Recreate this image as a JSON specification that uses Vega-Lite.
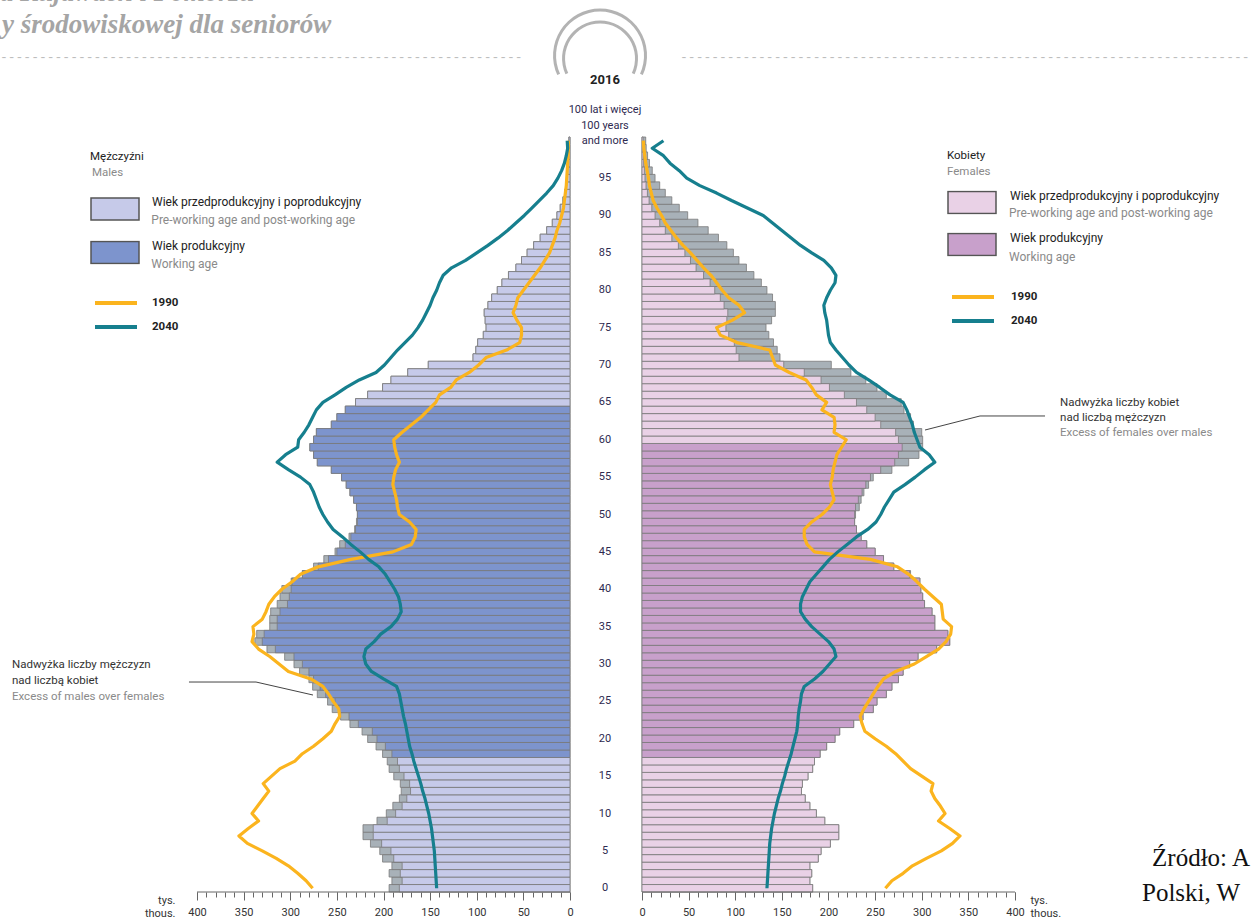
{
"$schema": "https://vega.github.io/schema/vega-lite/v6.json",
"autosize": {"type": "none"},
"width": 818, "height": 755,
"padding": {"left": 197, "top": 137, "right": 237, "bottom": 27},
"background": "white",
"config": {"view": {"stroke": null}, "font": "Roboto", "axis": {"labelColor": "#333", "labelFont": "Roboto", "labelFontSize": 11, "grid": false, "domain": false, "tickColor": "#666"}, "legend": {"labelFont": "Roboto", "titleFont": "Roboto"}},
"data": {"values": [
{"age":0,"sex":"M","v":194,"1990":276,"2040":143,"grp":"P"},
{"age":1,"sex":"M","v":191,"1990":283,"2040":143.5,"grp":"P"},
{"age":2,"sex":"M","v":194,"1990":292,"2040":144,"grp":"P"},
{"age":3,"sex":"M","v":191,"1990":302,"2040":144.5,"grp":"P"},
{"age":4,"sex":"M","v":201,"1990":315,"2040":145,"grp":"P"},
{"age":5,"sex":"M","v":204,"1990":330,"2040":145.5,"grp":"P"},
{"age":6,"sex":"M","v":214,"1990":346,"2040":146.5,"grp":"P"},
{"age":7,"sex":"M","v":222,"1990":355,"2040":147.5,"grp":"P"},
{"age":8,"sex":"M","v":222,"1990":345,"2040":148.5,"grp":"P"},
{"age":9,"sex":"M","v":207,"1990":334,"2040":150,"grp":"P"},
{"age":10,"sex":"M","v":197,"1990":341,"2040":151.5,"grp":"P"},
{"age":11,"sex":"M","v":190,"1990":335,"2040":153.5,"grp":"P"},
{"age":12,"sex":"M","v":183,"1990":329,"2040":155.5,"grp":"P"},
{"age":13,"sex":"M","v":181,"1990":323,"2040":158,"grp":"P"},
{"age":14,"sex":"M","v":182,"1990":329,"2040":160,"grp":"P"},
{"age":15,"sex":"M","v":189,"1990":320,"2040":162.5,"grp":"P"},
{"age":16,"sex":"M","v":194,"1990":311,"2040":165,"grp":"P"},
{"age":17,"sex":"M","v":196,"1990":295,"2040":167.5,"grp":"P"},
{"age":18,"sex":"M","v":201,"1990":287,"2040":169.5,"grp":"W"},
{"age":19,"sex":"M","v":208,"1990":275,"2040":172,"grp":"W"},
{"age":20,"sex":"M","v":217,"1990":265,"2040":173.5,"grp":"W"},
{"age":21,"sex":"M","v":223,"1990":256,"2040":175,"grp":"W"},
{"age":22,"sex":"M","v":236,"1990":252,"2040":176.5,"grp":"W"},
{"age":23,"sex":"M","v":246,"1990":247,"2040":178.5,"grp":"W"},
{"age":24,"sex":"M","v":255,"1990":248,"2040":180,"grp":"W"},
{"age":25,"sex":"M","v":260,"1990":254,"2040":181.5,"grp":"W"},
{"age":26,"sex":"M","v":271,"1990":259,"2040":183,"grp":"W"},
{"age":27,"sex":"M","v":276,"1990":265,"2040":186,"grp":"W"},
{"age":28,"sex":"M","v":280,"1990":278,"2040":200,"grp":"W"},
{"age":29,"sex":"M","v":290,"1990":302,"2040":213,"grp":"W"},
{"age":30,"sex":"M","v":296,"1990":312,"2040":219,"grp":"W"},
{"age":31,"sex":"M","v":306,"1990":322,"2040":221,"grp":"W"},
{"age":32,"sex":"M","v":325,"1990":334,"2040":219,"grp":"W"},
{"age":33,"sex":"M","v":338,"1990":341,"2040":210,"grp":"W"},
{"age":34,"sex":"M","v":336,"1990":339,"2040":203,"grp":"W"},
{"age":35,"sex":"M","v":322,"1990":340,"2040":192,"grp":"W"},
{"age":36,"sex":"M","v":322,"1990":330,"2040":185,"grp":"W"},
{"age":37,"sex":"M","v":321,"1990":326,"2040":181,"grp":"W"},
{"age":38,"sex":"M","v":314,"1990":323,"2040":182,"grp":"W"},
{"age":39,"sex":"M","v":311,"1990":317,"2040":184,"grp":"W"},
{"age":40,"sex":"M","v":309,"1990":309,"2040":188,"grp":"W"},
{"age":41,"sex":"M","v":299,"1990":298,"2040":193,"grp":"W"},
{"age":42,"sex":"M","v":287,"1990":289,"2040":198,"grp":"W"},
{"age":43,"sex":"M","v":275,"1990":270,"2040":205,"grp":"W"},
{"age":44,"sex":"M","v":264,"1990":235,"2040":216,"grp":"W"},
{"age":45,"sex":"M","v":252,"1990":190,"2040":225,"grp":"W"},
{"age":46,"sex":"M","v":247,"1990":170,"2040":235,"grp":"W"},
{"age":47,"sex":"M","v":237,"1990":166,"2040":244,"grp":"W"},
{"age":48,"sex":"M","v":231,"1990":165,"2040":254,"grp":"W"},
{"age":49,"sex":"M","v":229,"1990":172,"2040":260,"grp":"W"},
{"age":50,"sex":"M","v":228,"1990":183,"2040":265,"grp":"W"},
{"age":51,"sex":"M","v":229,"1990":185,"2040":269,"grp":"W"},
{"age":52,"sex":"M","v":232,"1990":186,"2040":272,"grp":"W"},
{"age":53,"sex":"M","v":236,"1990":188,"2040":275,"grp":"W"},
{"age":54,"sex":"M","v":240,"1990":190,"2040":279,"grp":"W"},
{"age":55,"sex":"M","v":245,"1990":189,"2040":289,"grp":"W"},
{"age":56,"sex":"M","v":256,"1990":187,"2040":302,"grp":"W"},
{"age":57,"sex":"M","v":271,"1990":183,"2040":314,"grp":"W"},
{"age":58,"sex":"M","v":275,"1990":186,"2040":305,"grp":"W"},
{"age":59,"sex":"M","v":279,"1990":188,"2040":292,"grp":"W"},
{"age":60,"sex":"M","v":275,"1990":189,"2040":291,"grp":"W"},
{"age":61,"sex":"M","v":272,"1990":180,"2040":285,"grp":"W"},
{"age":62,"sex":"M","v":256,"1990":170,"2040":280,"grp":"W"},
{"age":63,"sex":"M","v":250,"1990":160,"2040":276,"grp":"W"},
{"age":64,"sex":"M","v":241,"1990":152,"2040":272,"grp":"W"},
{"age":65,"sex":"M","v":230,"1990":144,"2040":265,"grp":"P"},
{"age":66,"sex":"M","v":217,"1990":140,"2040":252,"grp":"P"},
{"age":67,"sex":"M","v":201,"1990":128,"2040":240,"grp":"P"},
{"age":68,"sex":"M","v":192,"1990":122,"2040":226,"grp":"P"},
{"age":69,"sex":"M","v":174,"1990":108,"2040":208,"grp":"P"},
{"age":70,"sex":"M","v":152,"1990":98,"2040":199,"grp":"P"},
{"age":71,"sex":"M","v":104,"1990":90,"2040":192,"grp":"P"},
{"age":72,"sex":"M","v":101,"1990":68,"2040":185,"grp":"P"},
{"age":73,"sex":"M","v":99,"1990":54,"2040":177,"grp":"P"},
{"age":74,"sex":"M","v":93,"1990":52,"2040":169,"grp":"P"},
{"age":75,"sex":"M","v":90,"1990":52,"2040":163,"grp":"P"},
{"age":76,"sex":"M","v":91,"1990":57,"2040":158,"grp":"P"},
{"age":77,"sex":"M","v":92,"1990":61,"2040":154,"grp":"P"},
{"age":78,"sex":"M","v":88,"1990":58,"2040":150,"grp":"P"},
{"age":79,"sex":"M","v":84,"1990":56,"2040":147,"grp":"P"},
{"age":80,"sex":"M","v":78,"1990":50,"2040":143,"grp":"P"},
{"age":81,"sex":"M","v":73,"1990":44,"2040":140,"grp":"P"},
{"age":82,"sex":"M","v":66,"1990":38,"2040":136,"grp":"P"},
{"age":83,"sex":"M","v":58,"1990":32,"2040":127,"grp":"P"},
{"age":84,"sex":"M","v":52,"1990":27,"2040":112,"grp":"P"},
{"age":85,"sex":"M","v":46,"1990":22,"2040":100,"grp":"P"},
{"age":86,"sex":"M","v":39,"1990":19,"2040":88,"grp":"P"},
{"age":87,"sex":"M","v":32,"1990":16,"2040":77,"grp":"P"},
{"age":88,"sex":"M","v":25,"1990":14,"2040":67,"grp":"P"},
{"age":89,"sex":"M","v":19,"1990":11,"2040":58,"grp":"P"},
{"age":90,"sex":"M","v":14,"1990":9,"2040":49,"grp":"P"},
{"age":91,"sex":"M","v":10.5,"1990":7,"2040":41,"grp":"P"},
{"age":92,"sex":"M","v":7.6,"1990":6,"2040":33,"grp":"P"},
{"age":93,"sex":"M","v":5.8,"1990":5,"2040":25,"grp":"P"},
{"age":94,"sex":"M","v":4.3,"1990":4,"2040":18,"grp":"P"},
{"age":95,"sex":"M","v":3.2,"1990":3.5,"2040":13,"grp":"P"},
{"age":96,"sex":"M","v":2.5,"1990":3,"2040":9,"grp":"P"},
{"age":97,"sex":"M","v":1.8,"1990":2.5,"2040":6,"grp":"P"},
{"age":98,"sex":"M","v":1.4,"1990":2,"2040":4,"grp":"P"},
{"age":99,"sex":"M","v":1,"1990":1.8,"2040":2.5,"grp":"P"},
{"age":100,"sex":"M","v":1.2,"1990":1.8,"2040":3,"grp":"P"},
{"age":0,"sex":"F","v":183,"1990":261,"2040":134,"grp":"P"},
{"age":1,"sex":"F","v":180,"1990":268,"2040":134.5,"grp":"P"},
{"age":2,"sex":"F","v":182,"1990":280,"2040":135,"grp":"P"},
{"age":3,"sex":"F","v":180,"1990":290,"2040":135.5,"grp":"P"},
{"age":4,"sex":"F","v":189,"1990":305,"2040":136,"grp":"P"},
{"age":5,"sex":"F","v":192,"1990":321,"2040":136.5,"grp":"P"},
{"age":6,"sex":"F","v":202,"1990":333,"2040":137,"grp":"P"},
{"age":7,"sex":"F","v":211,"1990":341,"2040":138,"grp":"P"},
{"age":8,"sex":"F","v":211,"1990":330,"2040":139,"grp":"P"},
{"age":9,"sex":"F","v":196,"1990":318,"2040":140.5,"grp":"P"},
{"age":10,"sex":"F","v":187,"1990":325,"2040":142,"grp":"P"},
{"age":11,"sex":"F","v":180,"1990":320,"2040":144,"grp":"P"},
{"age":12,"sex":"F","v":175,"1990":314,"2040":146,"grp":"P"},
{"age":13,"sex":"F","v":171,"1990":310,"2040":148.5,"grp":"P"},
{"age":14,"sex":"F","v":172,"1990":312,"2040":150.5,"grp":"P"},
{"age":15,"sex":"F","v":178,"1990":300,"2040":153,"grp":"P"},
{"age":16,"sex":"F","v":183,"1990":288,"2040":155,"grp":"P"},
{"age":17,"sex":"F","v":185,"1990":280,"2040":157.5,"grp":"P"},
{"age":18,"sex":"F","v":191,"1990":272,"2040":160,"grp":"W"},
{"age":19,"sex":"F","v":198,"1990":262,"2040":162,"grp":"W"},
{"age":20,"sex":"F","v":207,"1990":250,"2040":164,"grp":"W"},
{"age":21,"sex":"F","v":212,"1990":239,"2040":166,"grp":"W"},
{"age":22,"sex":"F","v":227,"1990":236,"2040":167,"grp":"W"},
{"age":23,"sex":"F","v":237,"1990":234,"2040":167.5,"grp":"W"},
{"age":24,"sex":"F","v":248,"1990":238,"2040":168.5,"grp":"W"},
{"age":25,"sex":"F","v":252,"1990":243,"2040":170,"grp":"W"},
{"age":26,"sex":"F","v":262,"1990":248,"2040":171,"grp":"W"},
{"age":27,"sex":"F","v":268,"1990":253,"2040":174,"grp":"W"},
{"age":28,"sex":"F","v":275,"1990":259,"2040":185,"grp":"W"},
{"age":29,"sex":"F","v":280,"1990":272,"2040":194,"grp":"W"},
{"age":30,"sex":"F","v":287,"1990":292,"2040":201,"grp":"W"},
{"age":31,"sex":"F","v":296,"1990":305,"2040":208,"grp":"W"},
{"age":32,"sex":"F","v":316,"1990":318,"2040":206,"grp":"W"},
{"age":33,"sex":"F","v":330,"1990":326,"2040":200,"grp":"W"},
{"age":34,"sex":"F","v":328,"1990":331,"2040":191,"grp":"W"},
{"age":35,"sex":"F","v":314,"1990":332,"2040":182,"grp":"W"},
{"age":36,"sex":"F","v":314,"1990":323,"2040":175,"grp":"W"},
{"age":37,"sex":"F","v":311,"1990":322,"2040":170,"grp":"W"},
{"age":38,"sex":"F","v":303,"1990":321,"2040":170,"grp":"W"},
{"age":39,"sex":"F","v":301,"1990":312,"2040":172,"grp":"W"},
{"age":40,"sex":"F","v":299,"1990":303,"2040":176,"grp":"W"},
{"age":41,"sex":"F","v":298,"1990":295,"2040":180,"grp":"W"},
{"age":42,"sex":"F","v":288,"1990":286,"2040":187,"grp":"W"},
{"age":43,"sex":"F","v":270,"1990":274,"2040":194,"grp":"W"},
{"age":44,"sex":"F","v":259,"1990":245,"2040":201,"grp":"W"},
{"age":45,"sex":"F","v":250,"1990":185,"2040":210,"grp":"W"},
{"age":46,"sex":"F","v":241,"1990":177,"2040":220,"grp":"W"},
{"age":47,"sex":"F","v":235,"1990":174,"2040":230,"grp":"W"},
{"age":48,"sex":"F","v":230,"1990":174,"2040":242,"grp":"W"},
{"age":49,"sex":"F","v":228,"1990":182,"2040":251,"grp":"W"},
{"age":50,"sex":"F","v":229,"1990":193,"2040":256,"grp":"W"},
{"age":51,"sex":"F","v":233,"1990":201,"2040":260,"grp":"W"},
{"age":52,"sex":"F","v":235,"1990":206,"2040":265,"grp":"W"},
{"age":53,"sex":"F","v":238,"1990":204,"2040":270,"grp":"W"},
{"age":54,"sex":"F","v":243,"1990":202,"2040":282,"grp":"W"},
{"age":55,"sex":"F","v":248,"1990":204,"2040":293,"grp":"W"},
{"age":56,"sex":"F","v":268,"1990":205,"2040":303,"grp":"W"},
{"age":57,"sex":"F","v":286,"1990":207,"2040":314,"grp":"W"},
{"age":58,"sex":"F","v":297,"1990":209,"2040":308,"grp":"W"},
{"age":59,"sex":"F","v":301,"1990":214,"2040":298,"grp":"W"},
{"age":60,"sex":"F","v":301,"1990":219,"2040":295,"grp":"P"},
{"age":61,"sex":"F","v":300,"1990":206,"2040":292,"grp":"P"},
{"age":62,"sex":"F","v":291,"1990":207,"2040":290,"grp":"P"},
{"age":63,"sex":"F","v":288,"1990":206,"2040":287,"grp":"P"},
{"age":64,"sex":"F","v":281,"1990":193,"2040":284,"grp":"P"},
{"age":65,"sex":"F","v":278,"1990":198,"2040":280,"grp":"P"},
{"age":66,"sex":"F","v":262,"1990":187,"2040":266,"grp":"P"},
{"age":67,"sex":"F","v":252,"1990":182,"2040":255,"grp":"P"},
{"age":68,"sex":"F","v":240,"1990":176,"2040":243,"grp":"P"},
{"age":69,"sex":"F","v":224,"1990":158,"2040":230,"grp":"P"},
{"age":70,"sex":"F","v":203,"1990":143,"2040":222,"grp":"P"},
{"age":71,"sex":"F","v":148,"1990":140,"2040":215,"grp":"P"},
{"age":72,"sex":"F","v":145,"1990":137,"2040":208,"grp":"P"},
{"age":73,"sex":"F","v":141,"1990":102,"2040":202,"grp":"P"},
{"age":74,"sex":"F","v":136,"1990":84,"2040":200,"grp":"P"},
{"age":75,"sex":"F","v":133,"1990":80,"2040":199,"grp":"P"},
{"age":76,"sex":"F","v":139,"1990":97,"2040":198,"grp":"P"},
{"age":77,"sex":"F","v":143,"1990":110,"2040":196,"grp":"P"},
{"age":78,"sex":"F","v":143,"1990":104,"2040":195,"grp":"P"},
{"age":79,"sex":"F","v":140,"1990":93,"2040":198,"grp":"P"},
{"age":80,"sex":"F","v":134,"1990":86,"2040":202,"grp":"P"},
{"age":81,"sex":"F","v":128,"1990":80,"2040":207,"grp":"P"},
{"age":82,"sex":"F","v":120,"1990":74,"2040":208,"grp":"P"},
{"age":83,"sex":"F","v":112,"1990":66,"2040":203,"grp":"P"},
{"age":84,"sex":"F","v":104,"1990":59,"2040":195,"grp":"P"},
{"age":85,"sex":"F","v":98,"1990":52,"2040":182,"grp":"P"},
{"age":86,"sex":"F","v":91,"1990":44,"2040":170,"grp":"P"},
{"age":87,"sex":"F","v":82,"1990":37,"2040":160,"grp":"P"},
{"age":88,"sex":"F","v":71,"1990":31,"2040":150,"grp":"P"},
{"age":89,"sex":"F","v":60,"1990":25,"2040":140,"grp":"P"},
{"age":90,"sex":"F","v":49,"1990":21,"2040":130,"grp":"P"},
{"age":91,"sex":"F","v":40,"1990":16,"2040":113,"grp":"P"},
{"age":92,"sex":"F","v":32,"1990":12,"2040":96,"grp":"P"},
{"age":93,"sex":"F","v":25,"1990":10,"2040":80,"grp":"P"},
{"age":94,"sex":"F","v":19,"1990":8,"2040":62,"grp":"P"},
{"age":95,"sex":"F","v":14,"1990":7,"2040":48,"grp":"P"},
{"age":96,"sex":"F","v":11,"1990":5.5,"2040":40,"grp":"P"},
{"age":97,"sex":"F","v":8,"1990":4,"2040":30,"grp":"P"},
{"age":98,"sex":"F","v":6,"1990":3,"2040":23,"grp":"P"},
{"age":99,"sex":"F","v":4.5,"1990":2,"2040":11,"grp":"P"},
{"age":100,"sex":"F","v":4,"1990":1.4,"2040":23,"grp":"P"}
]},
"transform": [{"joinaggregate": [{"op": "min", "field": "v", "as": "lo"}], "groupby": ["age"]}],
"layer": [
{
 "transform": [{"filter": "datum.sex === 'M'"}],
 "layer": [
  {"mark": {"type": "bar", "orient": "horizontal", "size": 7.475, "fill": "#a8b1b8", "stroke": "#7a7a7a", "strokeWidth": 0.8},
   "encoding": {
    "x": {"field": "v", "type": "quantitative", "scale": {"domain": [-477.2, 400], "reverse": true, "nice": false, "zero": false},
     "axis": {"orient": "bottom", "values": [0,50,100,150,200,250,300,350,400], "tickSize": 8, "labelPadding": 6, "labelFlush": false, "labelOverlap": false, "title": ["tys.", "thous."], "titleX": -22, "titleY": 2, "titleAlign": "right", "titleBaseline": "top", "titleFontWeight": "normal", "titleFontSize": 11, "titleLineHeight": 13, "titleColor": "#333", "titleFont": "Roboto"}},
    "y": {"field": "age", "type": "quantitative", "scale": {"domain": [-0.5, 100.5], "nice": false, "zero": false, "padding": 0}, "axis": null}
   }},
  {"mark": {"type": "bar", "orient": "horizontal", "size": 7.475, "stroke": "#7a7a7a", "strokeWidth": 0.8},
   "encoding": {
    "x": {"field": "lo", "type": "quantitative", "stack": null, "scale": {"domain": [-477.2, 400], "reverse": true, "nice": false, "zero": false},
     "axis": {"orient": "bottom", "values": [0,10,20,30,40,50,60,70,80,90,100,110,120,130,140,150,160,170,180,190,200,210,220,230,240,250,260,270,280,290,300,310,320,330,340,350,360,370,380,390,400], "tickSize": 5, "labels": false, "title": null}},
    "y": {"field": "age", "type": "quantitative", "scale": {"domain": [-0.5, 100.5], "nice": false, "zero": false, "padding": 0}, "axis": null},
    "fill": {"field": "grp", "type": "nominal", "scale": {"domain": ["P", "W"], "range": ["#c6cae9", "#7d94cd"]},
     "legend": {"orient": "none", "legendX": -107, "legendY": 14, "title": "Mężczyźni", "titleFontSize": 11.5, "titleFontWeight": "normal", "titleColor": "#222", "titlePadding": 34.5, "symbolType": "M-1,-0.4583H1V0.4583H-1Z", "symbolSize": 2304, "symbolStrokeColor": "#555", "symbolStrokeWidth": 1.5, "symbolOpacity": 1, "clipHeight": 24, "labelExpr": "datum.value == 'P' ? 'Wiek przedprodukcyjny i poprodukcyjny' : 'Wiek produkcyjny'", "labelBaseline": "bottom", "labelFontSize": 12, "labelOffset": 12, "labelColor": "#222", "labelLimit": 400, "rowPadding": 18.5}}
   }},
  {"transform": [{"fold": ["1990", "2040"], "as": ["year", "val"]}],
   "mark": {"type": "line", "strokeWidth": 3.2, "strokeJoin": "round"},
   "encoding": {
    "x": {"field": "val", "type": "quantitative", "scale": {"domain": [-477.2, 400], "reverse": true, "nice": false, "zero": false}, "axis": null},
    "y": {"field": "age", "type": "quantitative", "scale": {"domain": [-0.5, 100.5], "nice": false, "zero": false, "padding": 0}, "axis": null},
    "order": {"field": "age", "type": "quantitative"},
    "stroke": {"field": "year", "type": "nominal", "scale": {"domain": ["1990", "2040"], "range": ["#fbb41e", "#167f8e"]},
     "legend": {"orient": "none", "legendX": -104, "legendY": 158, "title": null, "symbolType": "stroke", "symbolSize": 1764, "symbolStrokeWidth": 4, "clipHeight": 16, "labelFontWeight": "bold", "labelFontSize": 11.5, "labelColor": "#222", "labelOffset": 13, "rowPadding": 8}}
   }},
  {"transform": [{"filter": "datum.age % 5 == 0 && datum.age < 100"}],
   "mark": {"type": "text", "align": "center", "baseline": "middle", "fontSize": 11, "color": "#2e2a4f"},
   "encoding": {"x": {"datum": -37.5, "type": "quantitative", "scale": {"domain": [-477.2, 400], "reverse": true, "nice": false, "zero": false}, "axis": null},
    "y": {"field": "age", "type": "quantitative", "scale": {"domain": [-0.5, 100.5], "nice": false, "zero": false, "padding": 0}, "axis": null},
    "text": {"field": "age", "type": "quantitative"}}},
  {"data": {"values": [{}]}, "mark": {"type": "rule", "color": "#666", "strokeWidth": 1},
   "encoding": {"x": {"datum": 0, "type": "quantitative", "scale": {"domain": [-477.2, 400], "reverse": true, "nice": false, "zero": false}, "axis": null}, "x2": {"datum": 400},
    "y": {"datum": -0.5, "type": "quantitative", "scale": {"domain": [-0.5, 100.5], "nice": false, "zero": false, "padding": 0}, "axis": null}}},
  {"data": {"values": [{}]}, "mark": {"type": "rule", "color": "#444", "strokeWidth": 1},
   "encoding": {"x": {"datum": 408.6, "type": "quantitative", "scale": {"domain": [-477.2, 400], "reverse": true, "nice": false, "zero": false}, "axis": null}, "x2": {"datum": 336.7},
    "y": {"datum": 27.59, "type": "quantitative", "scale": {"domain": [-0.5, 100.5], "nice": false, "zero": false, "padding": 0}, "axis": null}, "y2": {"datum": 27.59}}},
  {"data": {"values": [{}]}, "mark": {"type": "rule", "color": "#444", "strokeWidth": 1},
   "encoding": {"x": {"datum": 336.7, "type": "quantitative", "scale": {"domain": [-477.2, 400], "reverse": true, "nice": false, "zero": false}, "axis": null}, "x2": {"datum": 275.6},
    "y": {"datum": 27.59, "type": "quantitative", "scale": {"domain": [-0.5, 100.5], "nice": false, "zero": false, "padding": 0}, "axis": null}, "y2": {"datum": 25.85}}},
  {"data": {"values": [{}]}, "mark": {"type": "text", "text": "Nadwyżka liczby mężczyzn", "align": "left", "baseline": "middle", "fontSize": 11.5, "color": "#333"},
   "encoding": {"x": {"datum": 598.4, "type": "quantitative", "scale": {"domain": [-477.2, 400], "reverse": true, "nice": false, "zero": false}, "axis": null},
    "y": {"datum": 29.87, "type": "quantitative", "scale": {"domain": [-0.5, 100.5], "nice": false, "zero": false, "padding": 0}, "axis": null}}},
  {"data": {"values": [{}]}, "mark": {"type": "text", "text": "nad liczbą kobiet", "align": "left", "baseline": "middle", "fontSize": 11.5, "color": "#333"},
   "encoding": {"x": {"datum": 598.4, "type": "quantitative", "scale": {"domain": [-477.2, 400], "reverse": true, "nice": false, "zero": false}, "axis": null},
    "y": {"datum": 27.73, "type": "quantitative", "scale": {"domain": [-0.5, 100.5], "nice": false, "zero": false, "padding": 0}, "axis": null}}},
  {"data": {"values": [{}]}, "mark": {"type": "text", "text": "Excess of males over females", "align": "left", "baseline": "middle", "fontSize": 11.5, "color": "#8a8a8a"},
   "encoding": {"x": {"datum": 598.4, "type": "quantitative", "scale": {"domain": [-477.2, 400], "reverse": true, "nice": false, "zero": false}, "axis": null},
    "y": {"datum": 25.59, "type": "quantitative", "scale": {"domain": [-0.5, 100.5], "nice": false, "zero": false, "padding": 0}, "axis": null}}},
  {"data": {"values": [{}]}, "mark": {"type": "text", "text": "Males", "align": "left", "baseline": "middle", "fontSize": 11.5, "color": "#8a8a8a"},
   "encoding": {"x": {"datum": 512.6, "type": "quantitative", "scale": {"domain": [-477.2, 400], "reverse": true, "nice": false, "zero": false}, "axis": null},
    "y": {"datum": 95.69, "type": "quantitative", "scale": {"domain": [-0.5, 100.5], "nice": false, "zero": false, "padding": 0}, "axis": null}}},
  {"data": {"values": [{}]}, "mark": {"type": "text", "text": "Pre-working age and post-working age", "align": "left", "baseline": "middle", "fontSize": 12, "color": "#8a8a8a"},
   "encoding": {"x": {"datum": 449, "type": "quantitative", "scale": {"domain": [-477.2, 400], "reverse": true, "nice": false, "zero": false}, "axis": null},
    "y": {"datum": 89.4, "type": "quantitative", "scale": {"domain": [-0.5, 100.5], "nice": false, "zero": false, "padding": 0}, "axis": null}}},
  {"data": {"values": [{}]}, "mark": {"type": "text", "text": "Working age", "align": "left", "baseline": "middle", "fontSize": 12, "color": "#8a8a8a"},
   "encoding": {"x": {"datum": 449, "type": "quantitative", "scale": {"domain": [-477.2, 400], "reverse": true, "nice": false, "zero": false}, "axis": null},
    "y": {"datum": 83.51, "type": "quantitative", "scale": {"domain": [-0.5, 100.5], "nice": false, "zero": false, "padding": 0}, "axis": null}}},
  {"data": {"values": [{}]}, "mark": {"type": "text", "text": "2016", "align": "center", "baseline": "middle", "fontSize": 13, "fontWeight": "bold", "color": "#222"},
   "encoding": {"x": {"datum": -37.5, "type": "quantitative", "scale": {"domain": [-477.2, 400], "reverse": true, "nice": false, "zero": false}, "axis": null},
    "y": {"datum": 108.13, "type": "quantitative", "scale": {"domain": [-0.5, 100.5], "nice": false, "zero": false, "padding": 0}, "axis": null}}},
  {"data": {"values": [{}]}, "mark": {"type": "text", "text": "100 lat i więcej", "align": "center", "baseline": "middle", "fontSize": 11, "color": "#2e2a4f"},
   "encoding": {"x": {"datum": -37.5, "type": "quantitative", "scale": {"domain": [-477.2, 400], "reverse": true, "nice": false, "zero": false}, "axis": null},
    "y": {"datum": 104.12, "type": "quantitative", "scale": {"domain": [-0.5, 100.5], "nice": false, "zero": false, "padding": 0}, "axis": null}}},
  {"data": {"values": [{}]}, "mark": {"type": "text", "text": "100 years", "align": "center", "baseline": "middle", "fontSize": 11, "color": "#2e2a4f"},
   "encoding": {"x": {"datum": -37.5, "type": "quantitative", "scale": {"domain": [-477.2, 400], "reverse": true, "nice": false, "zero": false}, "axis": null},
    "y": {"datum": 101.99, "type": "quantitative", "scale": {"domain": [-0.5, 100.5], "nice": false, "zero": false, "padding": 0}, "axis": null}}},
  {"data": {"values": [{}]}, "mark": {"type": "text", "text": "and more", "align": "center", "baseline": "middle", "fontSize": 11, "color": "#2e2a4f"},
   "encoding": {"x": {"datum": -37.5, "type": "quantitative", "scale": {"domain": [-477.2, 400], "reverse": true, "nice": false, "zero": false}, "axis": null},
    "y": {"datum": 99.97, "type": "quantitative", "scale": {"domain": [-0.5, 100.5], "nice": false, "zero": false, "padding": 0}, "axis": null}}},
  {"data": {"values": [{}]}, "mark": {"type": "arc", "radius": 47, "radius2": 44, "theta": -2.0, "theta2": 2.0, "fill": "#b3b3b3"},
   "encoding": {"x": {"datum": -32.2, "type": "quantitative", "scale": {"domain": [-477.2, 400], "reverse": true, "nice": false, "zero": false}, "axis": null},
    "y": {"datum": 111.4, "type": "quantitative", "scale": {"domain": [-0.5, 100.5], "nice": false, "zero": false, "padding": 0}, "axis": null}}},
  {"data": {"values": [{}]}, "mark": {"type": "arc", "radius": 38, "radius2": 35, "theta": -2.0, "theta2": 2.0, "fill": "#b3b3b3"},
   "encoding": {"x": {"datum": -32.2, "type": "quantitative", "scale": {"domain": [-477.2, 400], "reverse": true, "nice": false, "zero": false}, "axis": null},
    "y": {"datum": 111.0, "type": "quantitative", "scale": {"domain": [-0.5, 100.5], "nice": false, "zero": false, "padding": 0}, "axis": null}}},
  {"data": {"values": [{}]}, "mark": {"type": "text", "text": "a Kujawach i Pomorzu", "align": "left", "baseline": "alphabetic", "font": "Liberation Serif", "fontSize": 27, "fontStyle": "italic", "fontWeight": "bold", "color": "#a5a5a5"},
   "encoding": {"x": {"datum": 611.3, "type": "quantitative", "scale": {"domain": [-477.2, 400], "reverse": true, "nice": false, "zero": false}, "axis": null},
    "y": {"datum": 118.7, "type": "quantitative", "scale": {"domain": [-0.5, 100.5], "nice": false, "zero": false, "padding": 0}, "axis": null}}},
  {"data": {"values": [{}]}, "mark": {"type": "text", "text": "y środowiskowej dla seniorów", "align": "left", "baseline": "alphabetic", "font": "Liberation Serif", "fontSize": 27, "fontStyle": "italic", "fontWeight": "bold", "color": "#a5a5a5"},
   "encoding": {"x": {"datum": 609.1, "type": "quantitative", "scale": {"domain": [-477.2, 400], "reverse": true, "nice": false, "zero": false}, "axis": null},
    "y": {"datum": 114.42, "type": "quantitative", "scale": {"domain": [-0.5, 100.5], "nice": false, "zero": false, "padding": 0}, "axis": null}}},
  {"data": {"values": [{}]}, "mark": {"type": "text", "text": "-------------------------------------------------------------------", "align": "left", "baseline": "middle", "font": "Liberation Mono", "fontSize": 13, "color": "#bdbdbd"},
   "encoding": {"x": {"datum": 611.3, "type": "quantitative", "scale": {"domain": [-477.2, 400], "reverse": true, "nice": false, "zero": false}, "axis": null},
    "y": {"datum": 111.2, "type": "quantitative", "scale": {"domain": [-0.5, 100.5], "nice": false, "zero": false, "padding": 0}, "axis": null}}}
 ],
 "resolve": {"axis": {"x": "independent"}}
},
{
 "transform": [{"filter": "datum.sex === 'F'"}],
 "layer": [
  {"mark": {"type": "bar", "orient": "horizontal", "size": 7.475, "fill": "#a8b1b8", "stroke": "#7a7a7a", "strokeWidth": 0.8},
   "encoding": {
    "x": {"field": "v", "type": "quantitative", "scale": {"domain": [-477.2, 400], "nice": false, "zero": false},
     "axis": {"orient": "bottom", "values": [0,50,100,150,200,250,300,350,400], "tickSize": 8, "labelPadding": 6, "labelFlush": false, "labelOverlap": false, "title": ["tys.", "thous."], "titleX": 833, "titleY": 2, "titleAlign": "left", "titleBaseline": "top", "titleFontWeight": "normal", "titleFontSize": 11, "titleLineHeight": 13, "titleColor": "#333", "titleFont": "Roboto"}},
    "y": {"field": "age", "type": "quantitative", "scale": {"domain": [-0.5, 100.5], "nice": false, "zero": false, "padding": 0}, "axis": null}
   }},
  {"mark": {"type": "bar", "orient": "horizontal", "size": 7.475, "stroke": "#7a7a7a", "strokeWidth": 0.8},
   "encoding": {
    "x": {"field": "lo", "type": "quantitative", "stack": null, "scale": {"domain": [-477.2, 400], "nice": false, "zero": false},
     "axis": {"orient": "bottom", "values": [0,10,20,30,40,50,60,70,80,90,100,110,120,130,140,150,160,170,180,190,200,210,220,230,240,250,260,270,280,290,300,310,320,330,340,350,360,370,380,390,400], "tickSize": 5, "labels": false, "title": null}},
    "y": {"field": "age", "type": "quantitative", "scale": {"domain": [-0.5, 100.5], "nice": false, "zero": false, "padding": 0}, "axis": null},
    "fill": {"field": "grp", "type": "nominal", "scale": {"domain": ["P", "W"], "range": ["#e9d1e6", "#c8a0cb"]},
     "legend": {"orient": "none", "legendX": 750, "legendY": 13, "title": "Kobiety", "titleFontSize": 11.5, "titleFontWeight": "normal", "titleColor": "#222", "titlePadding": 29, "symbolType": "M-1,-0.4583H1V0.4583H-1Z", "symbolSize": 2304, "symbolStrokeColor": "#555", "symbolStrokeWidth": 1.5, "symbolOpacity": 1, "clipHeight": 24, "labelExpr": "datum.value == 'P' ? 'Wiek przedprodukcyjny i poprodukcyjny' : 'Wiek produkcyjny'", "labelBaseline": "bottom", "labelFontSize": 12, "labelOffset": 13, "labelColor": "#222", "labelLimit": 400, "rowPadding": 17}}
   }},
  {"transform": [{"fold": ["1990", "2040"], "as": ["year", "val"]}],
   "mark": {"type": "line", "strokeWidth": 3.2, "strokeJoin": "round"},
   "encoding": {
    "x": {"field": "val", "type": "quantitative", "scale": {"domain": [-477.2, 400], "nice": false, "zero": false}, "axis": null},
    "y": {"field": "age", "type": "quantitative", "scale": {"domain": [-0.5, 100.5], "nice": false, "zero": false, "padding": 0}, "axis": null},
    "order": {"field": "age", "type": "quantitative"},
    "stroke": {"field": "year", "type": "nominal", "scale": {"domain": ["1990", "2040"], "range": ["#fbb41e", "#167f8e"]},
     "legend": {"orient": "none", "legendX": 753, "legendY": 152, "title": null, "symbolType": "stroke", "symbolSize": 1764, "symbolStrokeWidth": 4, "clipHeight": 16, "labelFontWeight": "bold", "labelFontSize": 11.5, "labelColor": "#222", "labelOffset": 15, "rowPadding": 8}}
   }},
  {"data": {"values": [{}]}, "mark": {"type": "rule", "color": "#666", "strokeWidth": 1},
   "encoding": {"x": {"datum": 0, "type": "quantitative", "scale": {"domain": [-477.2, 400], "nice": false, "zero": false}, "axis": null}, "x2": {"datum": 400},
    "y": {"datum": -0.5, "type": "quantitative", "scale": {"domain": [-0.5, 100.5], "nice": false, "zero": false, "padding": 0}, "axis": null}}},
  {"data": {"values": [{}]}, "mark": {"type": "rule", "color": "#444", "strokeWidth": 1},
   "encoding": {"x": {"datum": 432.2, "type": "quantitative", "scale": {"domain": [-477.2, 400], "nice": false, "zero": false}, "axis": null}, "x2": {"datum": 362.5},
    "y": {"datum": 63.18, "type": "quantitative", "scale": {"domain": [-0.5, 100.5], "nice": false, "zero": false, "padding": 0}, "axis": null}, "y2": {"datum": 63.18}}},
  {"data": {"values": [{}]}, "mark": {"type": "rule", "color": "#444", "strokeWidth": 1},
   "encoding": {"x": {"datum": 362.5, "type": "quantitative", "scale": {"domain": [-477.2, 400], "nice": false, "zero": false}, "axis": null}, "x2": {"datum": 303.5},
    "y": {"datum": 63.18, "type": "quantitative", "scale": {"domain": [-0.5, 100.5], "nice": false, "zero": false, "padding": 0}, "axis": null}, "y2": {"datum": 61.3}}},
  {"data": {"values": [{}]}, "mark": {"type": "text", "text": "Nadwyżka liczby kobiet", "align": "left", "baseline": "middle", "fontSize": 11.5, "color": "#333"},
   "encoding": {"x": {"datum": 448.3, "type": "quantitative", "scale": {"domain": [-477.2, 400], "nice": false, "zero": false}, "axis": null},
    "y": {"datum": 64.92, "type": "quantitative", "scale": {"domain": [-0.5, 100.5], "nice": false, "zero": false, "padding": 0}, "axis": null}}},
  {"data": {"values": [{}]}, "mark": {"type": "text", "text": "nad liczbą mężczyzn", "align": "left", "baseline": "middle", "fontSize": 11.5, "color": "#333"},
   "encoding": {"x": {"datum": 448.3, "type": "quantitative", "scale": {"domain": [-477.2, 400], "nice": false, "zero": false}, "axis": null},
    "y": {"datum": 62.91, "type": "quantitative", "scale": {"domain": [-0.5, 100.5], "nice": false, "zero": false, "padding": 0}, "axis": null}}},
  {"data": {"values": [{}]}, "mark": {"type": "text", "text": "Excess of females over males", "align": "left", "baseline": "middle", "fontSize": 11.5, "color": "#8a8a8a"},
   "encoding": {"x": {"datum": 448.3, "type": "quantitative", "scale": {"domain": [-477.2, 400], "nice": false, "zero": false}, "axis": null},
    "y": {"datum": 60.9, "type": "quantitative", "scale": {"domain": [-0.5, 100.5], "nice": false, "zero": false, "padding": 0}, "axis": null}}},
  {"data": {"values": [{}]}, "mark": {"type": "text", "text": "Females", "align": "left", "baseline": "middle", "fontSize": 11.5, "color": "#8a8a8a"},
   "encoding": {"x": {"datum": 327.1, "type": "quantitative", "scale": {"domain": [-477.2, 400], "nice": false, "zero": false}, "axis": null},
    "y": {"datum": 95.86, "type": "quantitative", "scale": {"domain": [-0.5, 100.5], "nice": false, "zero": false, "padding": 0}, "axis": null}}},
  {"data": {"values": [{}]}, "mark": {"type": "text", "text": "Pre-working age and post-working age", "align": "left", "baseline": "middle", "fontSize": 12, "color": "#8a8a8a"},
   "encoding": {"x": {"datum": 393.6, "type": "quantitative", "scale": {"domain": [-477.2, 400], "nice": false, "zero": false}, "axis": null},
    "y": {"datum": 90.3, "type": "quantitative", "scale": {"domain": [-0.5, 100.5], "nice": false, "zero": false, "padding": 0}, "axis": null}}},
  {"data": {"values": [{}]}, "mark": {"type": "text", "text": "Working age", "align": "left", "baseline": "middle", "fontSize": 12, "color": "#8a8a8a"},
   "encoding": {"x": {"datum": 393.6, "type": "quantitative", "scale": {"domain": [-477.2, 400], "nice": false, "zero": false}, "axis": null},
    "y": {"datum": 84.49, "type": "quantitative", "scale": {"domain": [-0.5, 100.5], "nice": false, "zero": false, "padding": 0}, "axis": null}}},
  {"data": {"values": [{}]}, "mark": {"type": "text", "text": "Źródło: A", "align": "left", "baseline": "alphabetic", "font": "Liberation Serif", "fontSize": 25, "color": "#111"},
   "encoding": {"x": {"datum": 547, "type": "quantitative", "scale": {"domain": [-477.2, 400], "nice": false, "zero": false}, "axis": null},
    "y": {"datum": 2.98, "type": "quantitative", "scale": {"domain": [-0.5, 100.5], "nice": false, "zero": false, "padding": 0}, "axis": null}}},
  {"data": {"values": [{}]}, "mark": {"type": "text", "text": "Polski, W", "align": "left", "baseline": "alphabetic", "font": "Liberation Serif", "fontSize": 25, "color": "#111"},
   "encoding": {"x": {"datum": 536.2, "type": "quantitative", "scale": {"domain": [-477.2, 400], "nice": false, "zero": false}, "axis": null},
    "y": {"datum": -1.7, "type": "quantitative", "scale": {"domain": [-0.5, 100.5], "nice": false, "zero": false, "padding": 0}, "axis": null}}},
  {"data": {"values": [{}]}, "mark": {"type": "text", "text": "-------------------------------------------------------------------------", "align": "left", "baseline": "middle", "font": "Liberation Mono", "fontSize": 13, "color": "#bdbdbd"},
   "encoding": {"x": {"datum": 40.8, "type": "quantitative", "scale": {"domain": [-477.2, 400], "nice": false, "zero": false}, "axis": null},
    "y": {"datum": 111.2, "type": "quantitative", "scale": {"domain": [-0.5, 100.5], "nice": false, "zero": false, "padding": 0}, "axis": null}}}
 ],
 "resolve": {"axis": {"x": "independent"}}
}
],
"resolve": {"scale": {"x": "independent", "fill": "independent", "stroke": "independent"}, "axis": {"x": "independent"}, "legend": {"fill": "independent", "stroke": "independent"}}
}
